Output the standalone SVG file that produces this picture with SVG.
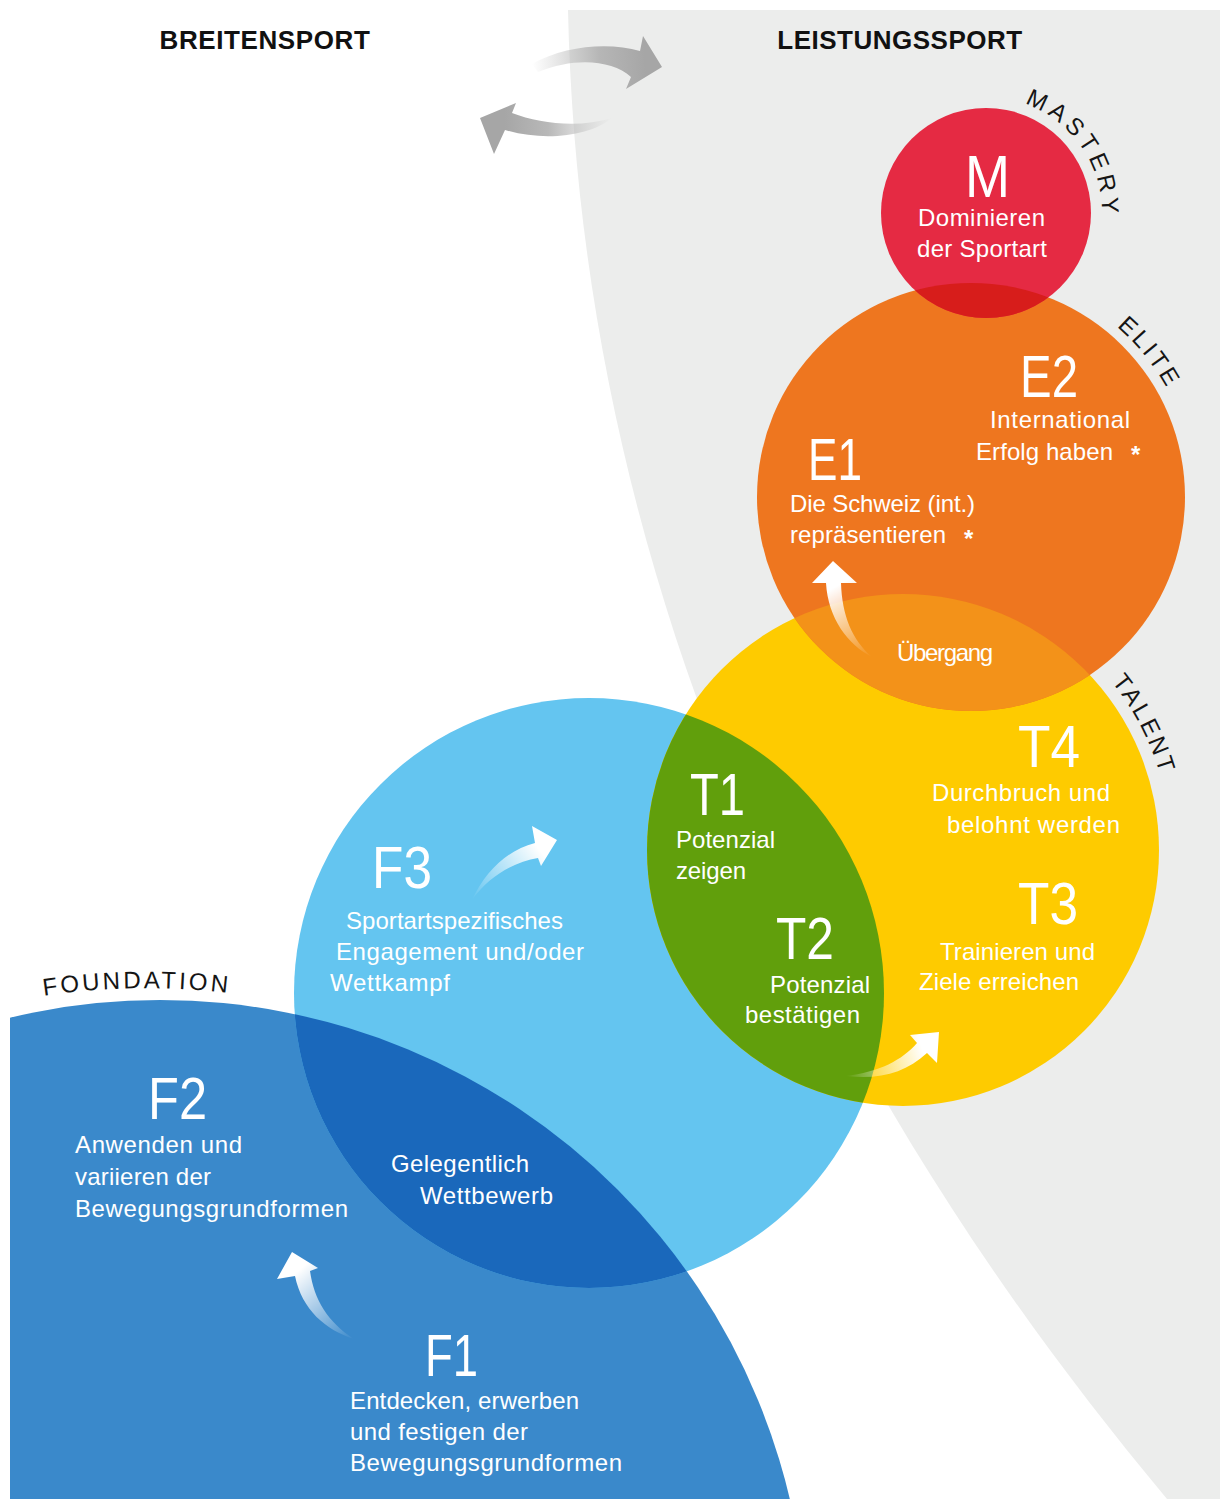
<svg xmlns="http://www.w3.org/2000/svg" width="1220" height="1499" viewBox="0 0 1220 1499">
<style>
.hd{font-family:"Liberation Sans",Arial,sans-serif;font-weight:bold;font-size:26px;fill:#111}
.big{font-family:"Liberation Sans",Arial,sans-serif;font-size:60px;fill:#fff}
.tx{font-family:"Liberation Sans",Arial,sans-serif;font-size:24px;fill:#fff}
.ast{font-family:"Liberation Sans",Arial,sans-serif;font-size:24px;font-weight:bold;fill:#fff}
.arc{font-family:"Liberation Sans",Arial,sans-serif;font-size:24px;fill:#151515}
</style>
<defs>
<clipPath id="cF3"><circle cx="589" cy="993" r="295"/></clipPath>
<clipPath id="cT"><circle cx="903" cy="850" r="256"/></clipPath>
<clipPath id="cE"><circle cx="971" cy="497" r="214"/></clipPath>
<clipPath id="cPage"><rect x="10" y="0" width="1210" height="1499"/></clipPath>
<path id="pM" d="M1006.1,98.8 A116,116 0 0 1 1099.5,237.1"/>
<path id="pE" d="M1099.5,313.5 A224,224 0 0 1 1177.2,409.5"/>
<path id="pT" d="M1092.5,660.5 A268,268 0 0 1 1166.9,803.5"/>
<path id="pF" d="M30,998 Q136,980 244,995"/>
<linearGradient id="gUp" gradientUnits="userSpaceOnUse" x1="532" y1="68" x2="645" y2="60">
<stop offset="0" stop-color="#bdbdbd" stop-opacity="0"/><stop offset="0.6" stop-color="#b0b0b0" stop-opacity="0.9"/><stop offset="1" stop-color="#a6a6a6"/></linearGradient>
<linearGradient id="gLo" gradientUnits="userSpaceOnUse" x1="612" y1="122" x2="505" y2="125">
<stop offset="0" stop-color="#bdbdbd" stop-opacity="0"/><stop offset="0.6" stop-color="#b0b0b0" stop-opacity="0.9"/><stop offset="1" stop-color="#a6a6a6"/></linearGradient>
<linearGradient id="gA1" gradientUnits="userSpaceOnUse" x1="354" y1="1339" x2="297" y2="1272">
<stop offset="0" stop-color="#fff" stop-opacity="0"/><stop offset="1" stop-color="#fff"/></linearGradient>
<linearGradient id="gA2" gradientUnits="userSpaceOnUse" x1="472" y1="900" x2="538" y2="848">
<stop offset="0" stop-color="#fff" stop-opacity="0"/><stop offset="1" stop-color="#fff"/></linearGradient>
<linearGradient id="gA3" gradientUnits="userSpaceOnUse" x1="871" y1="658" x2="833" y2="588">
<stop offset="0" stop-color="#fff" stop-opacity="0"/><stop offset="1" stop-color="#fff"/></linearGradient>
<linearGradient id="gA4" gradientUnits="userSpaceOnUse" x1="845" y1="1075" x2="922" y2="1048">
<stop offset="0" stop-color="#fff" stop-opacity="0"/><stop offset="1" stop-color="#fff"/></linearGradient>
</defs>
<rect width="1220" height="1499" fill="#fff"/>
<path id="bg" d="M568,10 L1220,10 L1220,1499 L1167,1499 C800,1060 580,560 568,10 Z" fill="#ecedec"/>
<text class="hd" x="265" y="49" text-anchor="middle" letter-spacing="0.6">BREITENSPORT</text>
<text class="hd" x="900" y="49" text-anchor="middle" letter-spacing="0.5">LEISTUNGSSPORT</text>

<g id="foundation">
<circle cx="160" cy="1647" r="647" fill="#3a89cb" clip-path="url(#cPage)"/>
</g>
<g id="f3">
<circle cx="589" cy="993" r="295" fill="#64c5f0"/>
</g>
<g id="talent">
<circle cx="903" cy="850" r="256" fill="#fecb00"/>
</g>
<g id="elite">
<circle cx="971" cy="497" r="214" fill="#ee761f"/>
</g>
<g id="mastery">
<circle cx="986" cy="213" r="105" fill="#e52a43"/>
</g>
<g id="overlaps">
<circle cx="160" cy="1647" r="647" fill="#1a68bb" clip-path="url(#cF3)"/>
<circle cx="589" cy="993" r="295" fill="#619f0c" clip-path="url(#cT)"/>
<circle cx="903" cy="850" r="256" fill="#f39219" clip-path="url(#cE)"/>
<circle cx="986" cy="213" r="105" fill="#d71d1b" clip-path="url(#cE)"/>
</g>

<g id="mastery-text">
<text class="big" x="965" y="197" textLength="45" lengthAdjust="spacingAndGlyphs">M</text>
<text class="tx" x="918" y="226" textLength="127">Dominieren</text>
<text class="tx" x="917" y="257" textLength="130">der Sportart</text>
<text class="arc" letter-spacing="4.6"><textPath href="#pM" startOffset="50%" text-anchor="middle">MASTERY</textPath></text>
</g>
<g id="elite-text">
<text class="big" x="1020" y="397" textLength="58" lengthAdjust="spacingAndGlyphs">E2</text>
<text class="tx" x="990" y="428" textLength="140">International</text>
<text class="tx" x="976" y="460" textLength="137">Erfolg haben</text>
<text class="ast" x="1131" y="463">*</text>
<text class="big" x="808" y="480" textLength="54" lengthAdjust="spacingAndGlyphs">E1</text>
<text class="tx" x="790" y="512" textLength="185">Die Schweiz (int.)</text>
<text class="tx" x="790" y="543" textLength="156">repräsentieren</text>
<text class="ast" x="964" y="547">*</text>
<text class="tx" x="897" y="661" font-size="21" textLength="96">Übergang</text>
<text class="arc" letter-spacing="3"><textPath href="#pE" startOffset="50%" text-anchor="middle">ELITE</textPath></text>
</g>
<g id="talent-text">
<text class="big" x="1018" y="767" textLength="62" lengthAdjust="spacingAndGlyphs">T4</text>
<text class="tx" x="932" y="801" textLength="178">Durchbruch und</text>
<text class="tx" x="947" y="833" textLength="173">belohnt werden</text>
<text class="big" x="1018" y="924" textLength="60" lengthAdjust="spacingAndGlyphs">T3</text>
<text class="tx" x="940" y="960" textLength="155">Trainieren und</text>
<text class="tx" x="919" y="990" textLength="160">Ziele erreichen</text>
<text class="big" x="690" y="815" textLength="55" lengthAdjust="spacingAndGlyphs">T1</text>
<text class="tx" x="676" y="848" textLength="99">Potenzial</text>
<text class="tx" x="676" y="879" textLength="70">zeigen</text>
<text class="big" x="776" y="959" textLength="58" lengthAdjust="spacingAndGlyphs">T2</text>
<text class="tx" x="770" y="993" textLength="100">Potenzial</text>
<text class="tx" x="745" y="1023" textLength="115">bestätigen</text>
<text class="arc" letter-spacing="2.8"><textPath href="#pT" startOffset="50%" text-anchor="middle">TALENT</textPath></text>
</g>
<g id="f3-text">
<text class="big" x="372" y="888" textLength="60" lengthAdjust="spacingAndGlyphs">F3</text>
<text class="tx" x="346" y="929" textLength="217">Sportartspezifisches</text>
<text class="tx" x="336" y="960" textLength="248">Engagement und/oder</text>
<text class="tx" x="330" y="991" textLength="120">Wettkampf</text>
</g>
<g id="foundation-text">
<text class="arc" letter-spacing="3"><textPath href="#pF" startOffset="50%" text-anchor="middle">FOUNDATION</textPath></text>
<text class="big" x="148" y="1119" textLength="59" lengthAdjust="spacingAndGlyphs">F2</text>
<text class="tx" x="75" y="1153" textLength="167">Anwenden und</text>
<text class="tx" x="75" y="1185" textLength="136">variieren der</text>
<text class="tx" x="75" y="1217" textLength="273">Bewegungsgrundformen</text>
<text class="tx" x="391" y="1172" textLength="138">Gelegentlich</text>
<text class="tx" x="420" y="1204" textLength="133">Wettbewerb</text>
<text class="big" x="425" y="1376" textLength="53" lengthAdjust="spacingAndGlyphs">F1</text>
<text class="tx" x="350" y="1409" textLength="229">Entdecken, erwerben</text>
<text class="tx" x="350" y="1440" textLength="178">und festigen der</text>
<text class="tx" x="350" y="1471" textLength="272">Bewegungsgrundformen</text>
</g>

<g id="connectors">
<path d="M662,67 L626,89 L631,77 C612,60 575,57 538,72 L532,64 C565,45 610,42 640,51 L643,36 Z" fill="url(#gUp)"/>
<path d="M480,118 L516,103 L512,113 C540,124 580,128 612,118 C590,136 545,142 505,130 L494,154 Z" fill="url(#gLo)"/>
<path d="M292,1252 L318,1268 L310,1271 C314,1300 328,1322 354,1339 C326,1330 302,1310 295,1276 L277,1279 Z" fill="url(#gA1)"/>
<path d="M557,840 L541,866 L538,858 C515,862 490,875 472,900 C485,872 507,850 535,843 L532,826 Z" fill="url(#gA2)"/>
<path d="M833,561 L857,583 L841,583 C842,615 852,640 872,657 C848,645 828,618 826,583 L812,583 Z" fill="url(#gA3)"/>
<path d="M939,1032 L937,1063 L927,1053 C905,1073 880,1080 845,1076 C880,1072 902,1060 917,1043 L910,1035 Z" fill="url(#gA4)"/>
</g>
</svg>
